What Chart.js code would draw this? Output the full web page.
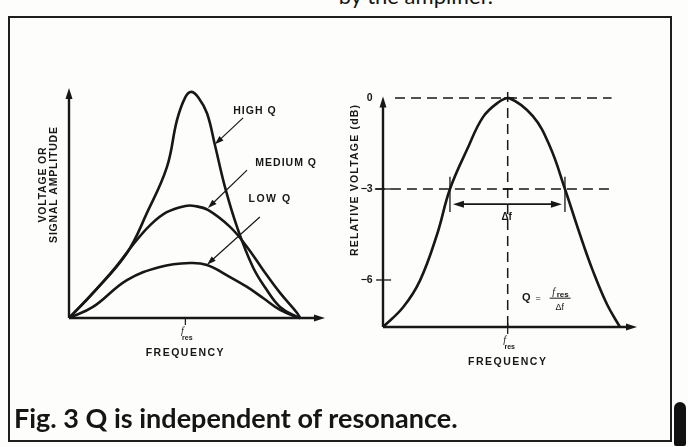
<!DOCTYPE html>
<html>
<head>
<meta charset="utf-8">
<script src="https://cdn.jsdelivr.net/npm/chart.js@4.4.1/dist/chart.umd.min.js"></script>
<style>
  body { margin: 0; background: #fdfdfb; overflow: hidden; }
  #page { position: relative; width: 688px; height: 447px; overflow: hidden; }
  #frame { position: absolute; left: 8px; top: 16px; width: 660px; height: 422px; border: 2px solid #1e1e1e; }
  canvas { position: absolute; top: 0; }
  #leftChart { left: 0; }
  #rightChart { left: 344px; }
  #caption { position: absolute; left: 14px; top: 401px; font: bold 27px Lato, sans-serif; color: #151515; }
  #topline { position: absolute; right: 195px; top: -15px; font: 22px Lato, sans-serif; color: #151515; line-height: 22px; }
  #blob { position: absolute; left: 674px; top: 402px; width: 12px; height: 44px; border-radius: 6px 6px 2px 2px; background: #111; }
</style>
</head>
<body>
<div id="page">
  <div id="topline">by the amplifier.</div>
  <div id="frame"></div>
  <canvas id="leftChart" width="344" height="447"></canvas>
  <canvas id="rightChart" width="344" height="447"></canvas>
  <div id="caption">Fig. 3 Q is independent of resonance.</div>
  <div id="blob"></div>
</div>
<script>
// left panel: amplitude vs frequency for three Q values
const highQx = [0, 1.03, 2.49, 3.35, 4.21, 4.64, 5.0, 5.25, 5.55, 5.93, 6.27, 6.7, 7.22, 7.9, 8.5, 9.07, 9.8, 9.93];
const highQy = [0, 1.09, 2.83, 4.57, 6.57, 8.6, 9.6, 9.83, 9.6, 8.9, 7.52, 5.7, 3.96, 2.22, 1.22, 0.48, 0.04, 0];
const mediumQx = [0, 1.0, 2.0, 2.8, 3.5, 4.2, 5.0, 5.4, 5.97, 6.92, 7.65, 8.34, 9.07, 9.8, 9.93];
const mediumQy = [0, 1.05, 2.2, 3.25, 4.05, 4.6, 4.87, 4.87, 4.7, 3.96, 3.09, 2.09, 1.09, 0.22, 0];
const lowQx = [0, 1.03, 2.49, 3.91, 5.2, 5.93, 6.92, 7.65, 8.34, 9.07, 9.8, 9.93];
const lowQy = [0, 0.48, 1.65, 2.22, 2.39, 2.3, 1.78, 1.35, 0.87, 0.35, 0.04, 0];
const fresLeft = 5.0;

// right panel: relative voltage (dB) vs frequency
const dbX = [0, 0.87, 1.6, 2.34, 2.9, 3.64, 4.33, 5.0, 5.45, 6.49, 7.23, 7.88, 8.53, 9.09, 9.7, 10.26];
const dbY = [-7.55, -6.9, -6.02, -4.5, -3.0, -1.7, -0.63, -0.14, 0, -0.6, -1.6, -3.0, -4.5, -5.7, -6.8, -7.55];
const dbTicks = [0, -3, -6];
const dbTickLabels = ['0', '\u22123', '\u22126'];
const fresRight = 5.4;
const bandLow = 2.9, bandHigh = 7.88;

const ink = '#171717';
const lab = 'bold 10.5px "Liberation Sans", Arial, sans-serif';

function pts(xs, ys) {
  return xs.map((x, i) => ({ x: x, y: ys[i] }));
}

function curve(xs, ys) {
  return {
    data: pts(xs, ys),
    showLine: true,
    borderColor: ink,
    borderWidth: 2.6,
    pointRadius: 0,
    tension: 0.4,
    clip: false
  };
}

function arrowHead(ctx, x1, y1, x2, y2, len, half) {
  const a = Math.atan2(y2 - y1, x2 - x1);
  ctx.beginPath();
  ctx.moveTo(x2, y2);
  ctx.lineTo(x2 - len * Math.cos(a) + half * Math.sin(a), y2 - len * Math.sin(a) - half * Math.cos(a));
  ctx.lineTo(x2 - len * Math.cos(a) - half * Math.sin(a), y2 - len * Math.sin(a) + half * Math.cos(a));
  ctx.closePath();
  ctx.fill();
}

function arrow(ctx, x1, y1, x2, y2, w, len, half) {
  const a = Math.atan2(y2 - y1, x2 - x1);
  ctx.lineWidth = w;
  ctx.beginPath();
  ctx.moveTo(x1, y1);
  ctx.lineTo(x2 - len * 0.6 * Math.cos(a), y2 - len * 0.6 * Math.sin(a));
  ctx.stroke();
  arrowHead(ctx, x1, y1, x2, y2, len, half);
}

function text(ctx, s, x, y, font, align, spacing) {
  ctx.font = font;
  ctx.textAlign = align || 'center';
  ctx.textBaseline = 'middle';
  ctx.letterSpacing = (spacing || 0) + 'px';
  ctx.fillText(s, x, y);
  ctx.letterSpacing = '0px';
}

function fres(ctx, x, y) {
  text(ctx, 'f', x - 3, y - 2, 'italic 10px "Liberation Serif", serif', 'center');
  text(ctx, 'res', x + 2, y + 5, 'bold 7px "Liberation Sans", sans-serif', 'center');
}

function dashed(ctx, x1, y1, x2, y2) {
  ctx.save();
  ctx.lineWidth = 1.5;
  ctx.setLineDash([10, 6]);
  ctx.beginPath();
  ctx.moveTo(x1, y1);
  ctx.lineTo(x2, y2);
  ctx.stroke();
  ctx.restore();
}

const leftExtras = {
  id: 'leftExtras',
  afterDatasetsDraw(chart) {
    const ctx = chart.ctx, xs = chart.scales.x, ys = chart.scales.y;
    const X = v => xs.getPixelForValue(v), Y = v => ys.getPixelForValue(v);
    ctx.save();
    ctx.strokeStyle = ink;
    ctx.fillStyle = ink;
    // axes with arrowheads
    arrow(ctx, X(0), Y(0), X(0), Y(10), 2.4, 11, 3.5);
    arrow(ctx, X(0), Y(0), X(11), Y(0), 2.4, 11, 3.5);
    ctx.lineWidth = 1.2;
    ctx.beginPath();
    ctx.moveTo(X(fresLeft), Y(0));
    ctx.lineTo(X(fresLeft), Y(0) + 7);
    ctx.stroke();
    fres(ctx, X(fresLeft), Y(0) + 15);
    text(ctx, 'FREQUENCY', X(fresLeft), Y(0) + 35, lab, 'center', 1.5);
    // y axis title
    ctx.save();
    ctx.translate(X(0) - 26, Y(5.8));
    ctx.rotate(-Math.PI / 2);
    text(ctx, 'VOLTAGE OR', 0, 0, lab, 'center', 0.8);
    text(ctx, 'SIGNAL AMPLITUDE', 0, 11, lab, 'center', 0.8);
    ctx.restore();
    // curve labels and pointers
    text(ctx, 'HIGH Q', X(7.99), Y(9.0), lab, 'center', 1);
    text(ctx, 'MEDIUM Q', X(9.33), Y(6.74), lab, 'center', 1);
    text(ctx, 'LOW Q', X(8.64), Y(5.17), lab, 'center', 1.5);
    arrow(ctx, X(7.48), Y(8.7), X(6.27), Y(7.55), 1.2, 9, 3);
    arrow(ctx, X(7.65), Y(6.43), X(5.97), Y(4.78), 1.2, 9, 3);
    arrow(ctx, X(8.2), Y(4.39), X(5.93), Y(2.32), 1.2, 9, 3);
    ctx.restore();
  }
};

const rightExtras = {
  id: 'rightExtras',
  beforeDatasetsDraw(chart) {
    const ctx = chart.ctx, xs = chart.scales.x, ys = chart.scales.y;
    const X = v => xs.getPixelForValue(v), Y = v => ys.getPixelForValue(v);
    ctx.save();
    ctx.strokeStyle = ink;
    dashed(ctx, X(0.52), Y(0), X(9.9), Y(0));
    dashed(ctx, X(-0.35), Y(-3), X(9.9), Y(-3));
    dashed(ctx, X(fresRight), Y(0.2), X(fresRight), Y(-7.55));
    ctx.restore();
  },
  afterDatasetsDraw(chart) {
    const ctx = chart.ctx, xs = chart.scales.x, ys = chart.scales.y;
    const X = v => xs.getPixelForValue(v), Y = v => ys.getPixelForValue(v);
    ctx.save();
    ctx.strokeStyle = ink;
    ctx.fillStyle = ink;
    arrow(ctx, X(0), Y(-7.55), X(0), Y(0.05), 2.4, 11, 3.5);
    arrow(ctx, X(0), Y(-7.55), X(11), Y(-7.55), 2.4, 11, 3.5);
    // y ticks
    ctx.lineWidth = 1.3;
    dbTicks.forEach((t, i) => {
      if (t !== 0) {
        ctx.beginPath();
        ctx.moveTo(X(-0.3), Y(t));
        ctx.lineTo(X(0.35), Y(t));
        ctx.stroke();
      }
      text(ctx, dbTickLabels[i], X(-0.45), Y(t), 'bold 10.5px "Liberation Sans", sans-serif', 'right');
    });
    // x tick at resonance
    ctx.beginPath();
    ctx.moveTo(X(fresRight), Y(-7.55) - 4);
    ctx.lineTo(X(fresRight), Y(-7.55) + 7);
    ctx.stroke();
    fres(ctx, X(fresRight), Y(-7.55) + 15);
    text(ctx, 'FREQUENCY', X(fresRight), Y(-7.55) + 35, lab, 'center', 1.5);
    // y title
    ctx.save();
    ctx.translate(X(0) - 28, Y(-2.7));
    ctx.rotate(-Math.PI / 2);
    text(ctx, 'RELATIVE VOLTAGE (dB)', 0, 0, lab, 'center', 1.2);
    ctx.restore();
    // small crosses where the curve meets -3 dB and the peak
    [bandLow, bandHigh].forEach(b => {
      ctx.beginPath();
      ctx.moveTo(X(b), Y(-2.6));
      ctx.lineTo(X(b), Y(-3.76));
      ctx.stroke();
    });
    ctx.beginPath();
    ctx.moveTo(X(fresRight) - 5, Y(-3));
    ctx.lineTo(X(fresRight) + 5, Y(-3));
    ctx.moveTo(X(5.45) - 5, Y(0));
    ctx.lineTo(X(5.45) + 5, Y(0));
    ctx.stroke();
    // bandwidth arrow
    const ya = Y(-3.5);
    const mid = (X(bandLow) + X(bandHigh)) / 2;
    arrow(ctx, mid, ya, X(bandLow) + 3, ya, 1.6, 11, 3.5);
    arrow(ctx, mid, ya, X(bandHigh) - 3, ya, 1.6, 11, 3.5);
    text(ctx, '\u0394f', X(fresRight) - 1, Y(-3.93), 'bold 10px "Liberation Sans", sans-serif', 'center');
    // Q formula
    text(ctx, 'Q', X(6.2), Y(-6.6), 'bold 11px "Liberation Sans", sans-serif', 'center');
    text(ctx, '=', X(6.72), Y(-6.6), '9px "Liberation Sans", sans-serif', 'center');
    const fx = X(7.65);
    text(ctx, 'f', fx - 6, Y(-6.4), 'italic 10px "Liberation Serif", serif', 'center');
    text(ctx, 'res', fx + 3, Y(-6.48), 'bold 8px "Liberation Sans", sans-serif', 'center');
    ctx.lineWidth = 1;
    ctx.beginPath();
    ctx.moveTo(fx - 10, Y(-6.6));
    ctx.lineTo(fx + 11, Y(-6.6));
    ctx.stroke();
    text(ctx, '\u0394f', fx, Y(-6.9), '9px "Liberation Sans", sans-serif', 'center');
    ctx.restore();
  }
};

function makeChart(id, datasets, xr, yr, pad, plugin) {
  return new Chart(document.getElementById(id), {
    type: 'scatter',
    data: { datasets: datasets },
    options: {
      responsive: false,
      animation: false,
      devicePixelRatio: 1,
      layout: { padding: pad },
      plugins: { legend: { display: false }, tooltip: { enabled: false } },
      scales: {
        x: { type: 'linear', display: false, min: xr[0], max: xr[1] },
        y: { type: 'linear', display: false, min: yr[0], max: yr[1] }
      }
    },
    plugins: [plugin]
  });
}

makeChart('leftChart',
  [curve(highQx, highQy), curve(mediumQx, mediumQy), curve(lowQx, lowQy)],
  [0, 11], [0, 10],
  { left: 69, right: 19, top: 88, bottom: 129 },
  leftExtras);

makeChart('rightChart',
  [curve(dbX, dbY)],
  [0, 11], [-7.55, 0],
  { left: 39, right: 51, top: 98, bottom: 120 },
  rightExtras);
</script>
</body>
</html>
